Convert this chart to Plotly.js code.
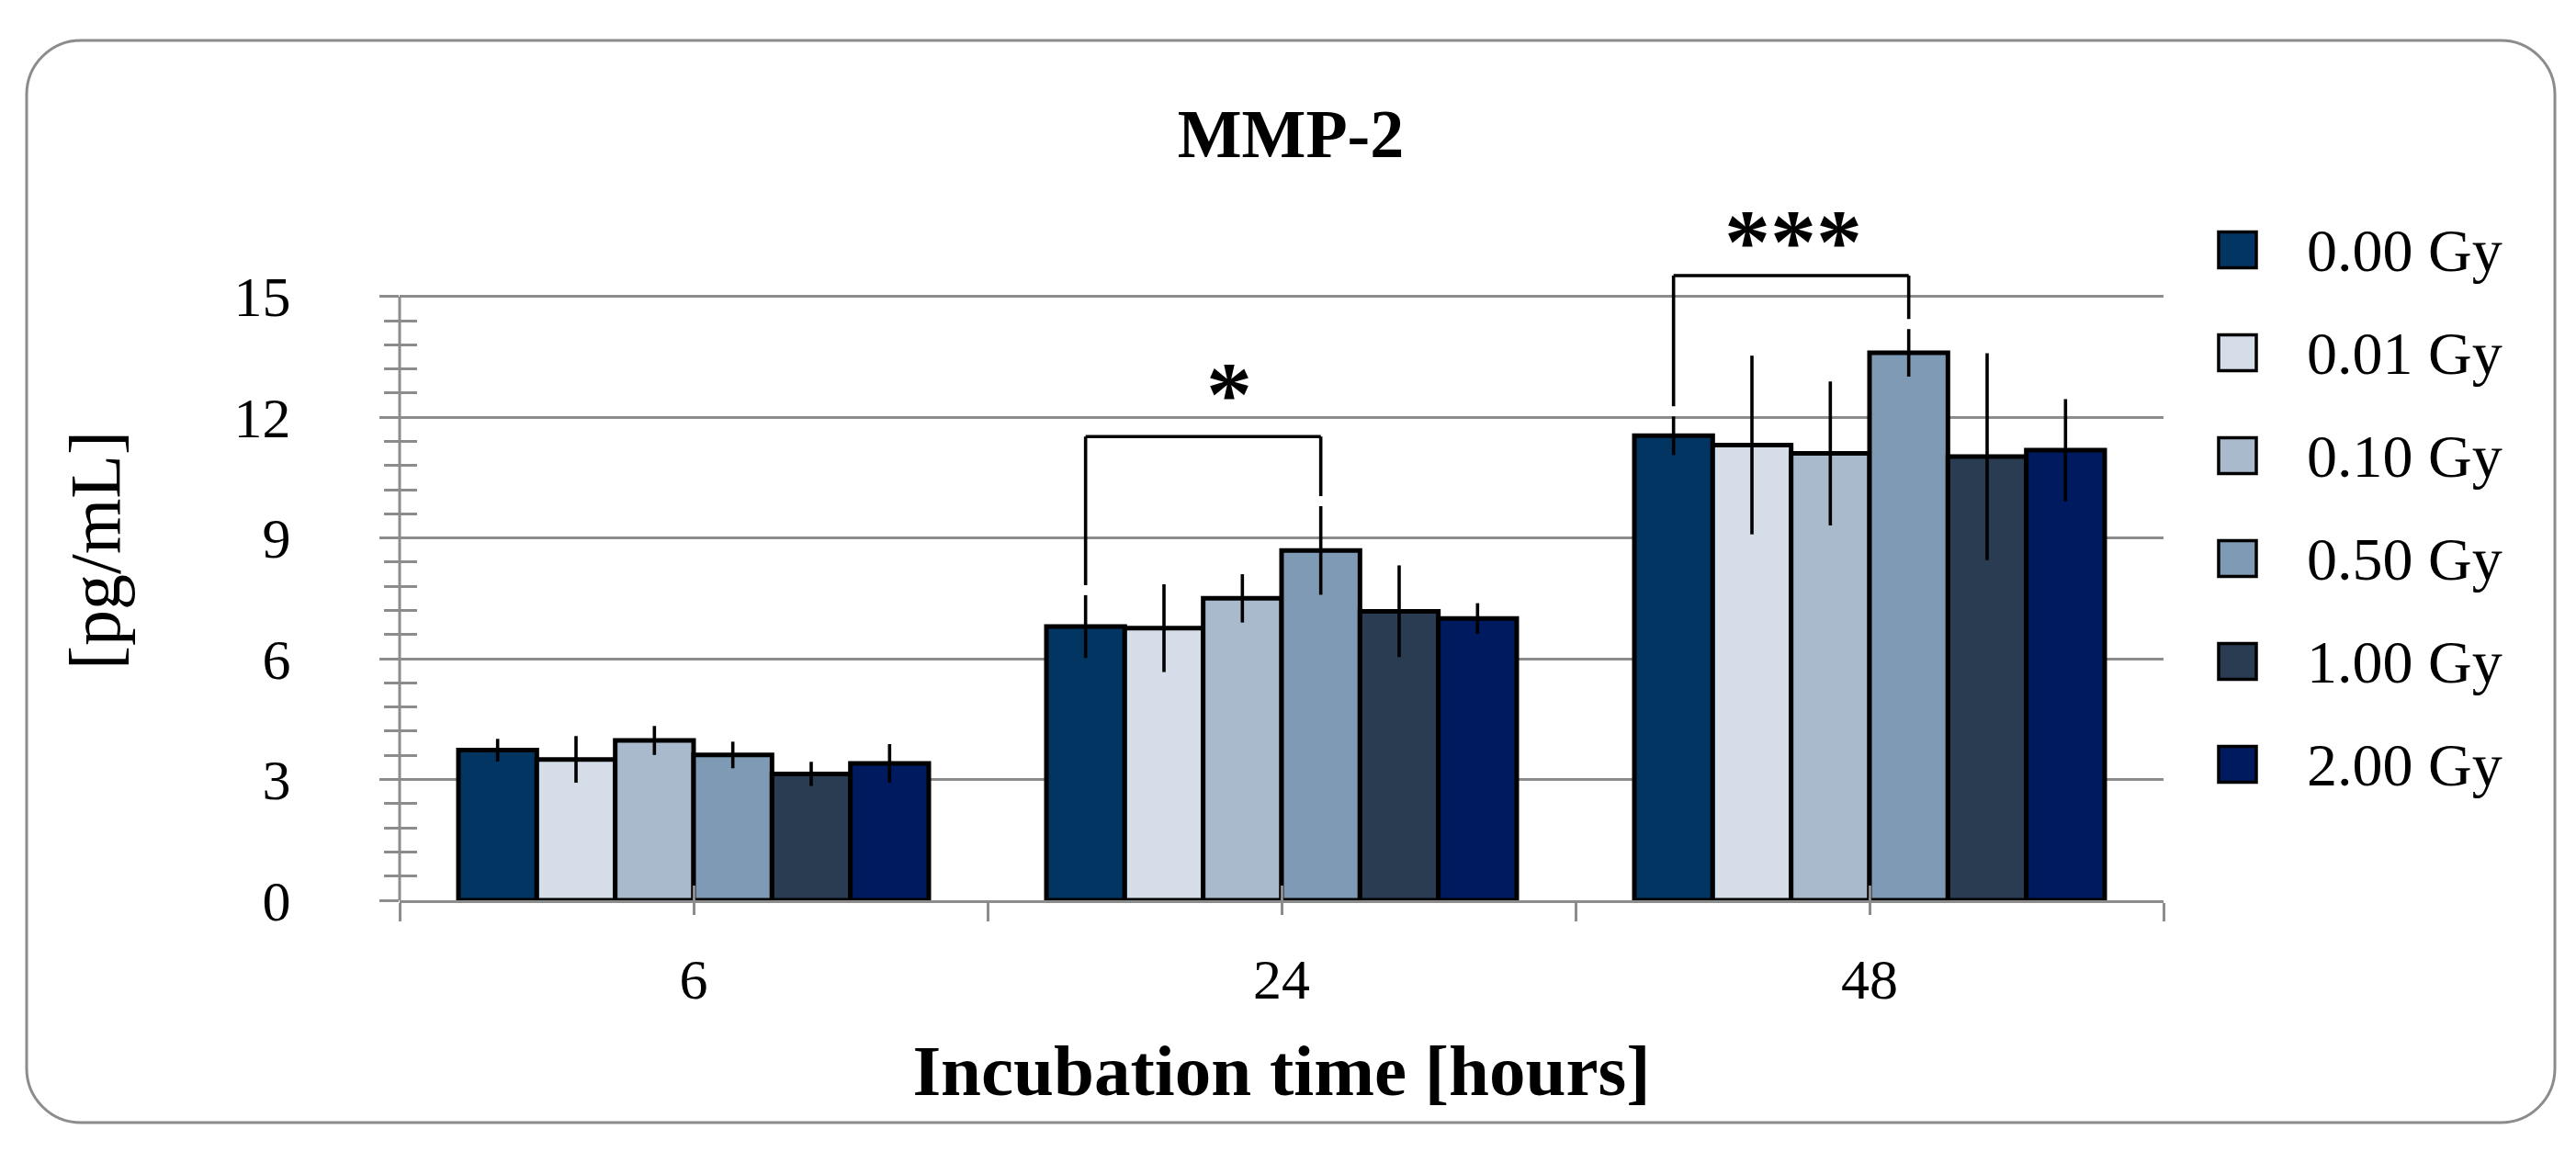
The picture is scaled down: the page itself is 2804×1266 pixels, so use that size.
<!DOCTYPE html>
<html>
<head>
<meta charset="utf-8">
<script src="https://cdn.plot.ly/plotly-3.0.1.min.js"></script>
<style>
  html, body { margin: 0; padding: 0; background: #ffffff; }
  #chart { width: 2804px; height: 1266px; }
</style>
</head>
<body>
<div id="chart"></div>
<script>
// ---------------- data ----------------
const timepoints = ['6', '24', '48'];
const doses = ['0.00 Gy', '0.01 Gy', '0.10 Gy', '0.50 Gy', '1.00 Gy', '2.00 Gy'];
const colors = ['#033562', '#D5DDE8', '#A9BACC', '#7F9AB4', '#293C51', '#001A5F'];

const mean_000 = [3.73, 6.80, 11.54];
const mean_001 = [3.50, 6.76, 11.31];
const mean_010 = [3.97, 7.50, 11.10];
const mean_050 = [3.61, 8.69, 13.60];
const mean_100 = [3.14, 7.18, 11.02];
const mean_200 = [3.40, 7.00, 11.18];

const err_000 = [0.28, 0.78, 0.48];
const err_001 = [0.58, 1.09, 2.22];
const err_010 = [0.36, 0.60, 1.79];
const err_050 = [0.33, 1.10, 0.59];
const err_100 = [0.30, 1.14, 2.57];
const err_200 = [0.48, 0.38, 1.27];

const yTicks = [0, 3, 6, 9, 12, 15];

// significance brackets
const sigTime = ['24', '48'];
const sigFromDose = [0, 0];
const sigToDose = [3, 3];
const sigTop = [11.52, 15.52];
const sigLabel = ['*', '***'];
const sigLabelX = [0.911, 1.870];
const sigLabelY = [12.82, 16.60];

const means = [mean_000, mean_001, mean_010, mean_050, mean_100, mean_200];
const errs = [err_000, err_001, err_010, err_050, err_100, err_200];

// ---------------- layout constants ----------------
const W = 2804, H = 1266;
const M = { l: 435, r: 449, t: 218, b: 286 };
const PW = W - M.l - M.r, PH = H - M.t - M.b;
const yTop = 17.39;
const GRID = '#8c8c8c';
const FONT = 'Liberation Serif, Times New Roman, serif';
const bargap = 0.2;

const px2x = px => (px - M.l) / PW;
const px2y = py => (H - M.b - py) / PH;

// ---------------- traces ----------------
const traces = doses.map((d, i) => ({
  type: 'bar',
  name: d,
  x: timepoints,
  y: means[i],
  marker: { color: colors[i], line: { color: '#000000', width: 5 } },
  error_y: { type: 'data', array: errs[i], visible: true, color: '#000000', thickness: 3.6, width: 0 },
  showlegend: false,
  hoverinfo: 'skip'
}));
traces.push({ type: 'scatter', x: [], y: [], xaxis: 'x2', yaxis: 'y2', showlegend: false, hoverinfo: 'skip' });
traces.push({ type: 'scatter', x: [], y: [], xaxis: 'x3', yaxis: 'y2', showlegend: false, hoverinfo: 'skip' });

// minor tick values on y
const minorVals = [];
for (let k = 0; k < yTicks.length - 1; k++) {
  const step = (yTicks[k + 1] - yTicks[k]) / 5;
  for (let j = 1; j < 5; j++) minorVals.push(+(yTicks[k] + j * step).toFixed(3));
}

// ---------------- shapes ----------------
const shapes = [];
// y-axis line from 0 to top tick
shapes.push({ type: 'line', xref: 'paper', yref: 'y', x0: 0, x1: 0, y0: yTicks[0], y1: yTicks[yTicks.length - 1],
  line: { color: GRID, width: 3 } });

// brackets
const barW = (1 - bargap) / doses.length;
const barCenter = (ti, di) => timepoints.indexOf(ti) + (di - (doses.length - 1) / 2) * barW;
const bracketGap = 0.25;
sigTime.forEach((t, s) => {
  const ti = timepoints.indexOf(t);
  const xa = barCenter(t, sigFromDose[s]);
  const xb = barCenter(t, sigToDose[s]);
  const ya = means[sigFromDose[s]][ti] + errs[sigFromDose[s]][ti] + bracketGap;
  const yb = means[sigToDose[s]][ti] + errs[sigToDose[s]][ti] + bracketGap;
  const ln = { color: '#000000', width: 3.6 };
  shapes.push({ type: 'line', xref: 'x', yref: 'y', x0: xa, x1: xa, y0: ya, y1: sigTop[s], line: ln });
  shapes.push({ type: 'line', xref: 'x', yref: 'y', x0: xa, x1: xb, y0: sigTop[s], y1: sigTop[s], line: ln });
  shapes.push({ type: 'line', xref: 'x', yref: 'y', x0: xb, x1: xb, y0: yb, y1: sigTop[s], line: ln });
});

// rounded border
(function () {
  const x0 = 29, x1 = 2781, y0 = 44, y1 = 1222, r = 59, k = 0.5523 * r;
  const P = (x, y) => px2x(x).toFixed(5) + ',' + px2y(y).toFixed(5);
  const path = 'M' + P(x0 + r, y0) +
    ' L' + P(x1 - r, y0) +
    ' C' + P(x1 - r + k, y0) + ' ' + P(x1, y0 + r - k) + ' ' + P(x1, y0 + r) +
    ' L' + P(x1, y1 - r) +
    ' C' + P(x1, y1 - r + k) + ' ' + P(x1 - r + k, y1) + ' ' + P(x1 - r, y1) +
    ' L' + P(x0 + r, y1) +
    ' C' + P(x0 + r - k, y1) + ' ' + P(x0, y1 - r + k) + ' ' + P(x0, y1 - r) +
    ' L' + P(x0, y0 + r) +
    ' C' + P(x0, y0 + r - k) + ' ' + P(x0 + r - k, y0) + ' ' + P(x0 + r, y0) + ' Z';
  shapes.push({ type: 'path', xref: 'paper', yref: 'paper', path: path, line: { color: GRID, width: 3 }, fillcolor: 'rgba(0,0,0,0)' });
})();

// custom legend
const annotations = [];
const legX0 = 2415, legX1 = 2456, legTextX = 2509, legY0 = 272, legStep = 112, legH = 39;
doses.forEach((d, i) => {
  const yc = legY0 + i * legStep;
  shapes.push({ type: 'rect', xref: 'paper', yref: 'paper',
    x0: px2x(legX0), x1: px2x(legX1), y0: px2y(yc + legH / 2), y1: px2y(yc - legH / 2),
    fillcolor: colors[i], line: { color: '#000000', width: 3.5 } });
  annotations.push({ xref: 'paper', yref: 'paper', x: px2x(legTextX), y: px2y(yc),
    xanchor: 'left', yanchor: 'middle', showarrow: false, text: d,
    font: { family: FONT, size: 66, color: '#000000' } });
});

// significance labels
sigLabel.forEach((lab, s) => {
  annotations.push({ xref: 'x', yref: 'y', x: sigLabelX[s], y: sigLabelY[s],
    xanchor: 'center', yanchor: 'middle', showarrow: false, text: '<b>' + lab + '</b>', yshift: -10,
    font: { family: FONT, size: 100, color: '#000000' } });
});

// ---------------- layout ----------------
const layout = {
  width: W, height: H,
  margin: M,
  paper_bgcolor: '#ffffff',
  plot_bgcolor: 'rgba(0,0,0,0)',
  barmode: 'group',
  bargap: bargap,
  bargroupgap: 0,
  showlegend: false,
  font: { family: FONT, color: '#000000' },
  title: {
    text: '<b>MMP-2</b>',
    font: { family: FONT, size: 74, color: '#000000' },
    xref: 'container', yref: 'container',
    x: 1405 / W, y: 1 - 145 / H, xanchor: 'center', yanchor: 'middle'
  },
  xaxis: {
    type: 'category',
    categoryorder: 'array', categoryarray: timepoints,
    range: [-0.5, timepoints.length - 0.5],
    tickson: 'boundaries',
    ticks: 'outside', ticklen: 20, tickwidth: 3, tickcolor: GRID,
    showline: true, linecolor: GRID, linewidth: 3,
    showgrid: false, zeroline: false,
    tickfont: { family: FONT, size: 62, color: '#000000' },
    ticklabelstandoff: 30,
    title: { text: '<b>Incubation time [hours]</b>', font: { family: FONT, size: 79, color: '#000000' }, standoff: 38 },
    fixedrange: true
  },
  xaxis2: {
    overlaying: 'x', anchor: 'y', type: 'linear',
    range: [-0.5, timepoints.length - 0.5],
    tickmode: 'array', tickvals: timepoints.map((_, i) => i),
    ticks: 'inside', ticklen: 16, tickwidth: 3, tickcolor: GRID,
    showticklabels: false, showgrid: false, zeroline: false, showline: false
  },
  xaxis3: {
    overlaying: 'x', anchor: 'y', type: 'linear',
    range: [-0.5, timepoints.length - 0.5],
    tickmode: 'array', tickvals: timepoints.map((_, i) => i),
    ticks: 'outside', ticklen: 15, tickwidth: 3, tickcolor: GRID,
    showticklabels: false, showgrid: false, zeroline: false, showline: false
  },
  yaxis: {
    range: [0, yTop],
    tickmode: 'array', tickvals: yTicks,
    ticks: 'outside', ticklen: 21, tickwidth: 3, tickcolor: GRID,
    showgrid: true, gridcolor: GRID, gridwidth: 3,
    showline: false, zeroline: false,
    tickfont: { family: FONT, size: 62, color: '#000000' },
    ticklabelstandoff: 84,
    minor: { tickmode: 'array', tickvals: minorVals, ticks: 'outside', ticklen: 16, tickwidth: 3, tickcolor: GRID, showgrid: false },
    title: { text: '[pg/mL]', font: { family: FONT, size: 78, color: '#000000' }, standoff: 98 },
    fixedrange: true
  },
  yaxis2: {
    overlaying: 'y', anchor: 'x', side: 'left',
    range: [0, yTop],
    tickmode: 'array', tickvals: minorVals,
    ticks: 'inside', ticklen: 19, tickwidth: 3, tickcolor: GRID,
    showticklabels: false, showgrid: false, zeroline: false, showline: false
  },
  shapes: shapes,
  annotations: annotations
};

Plotly.newPlot('chart', traces, layout, { staticPlot: true, displayModeBar: false });
</script>
</body>
</html>
